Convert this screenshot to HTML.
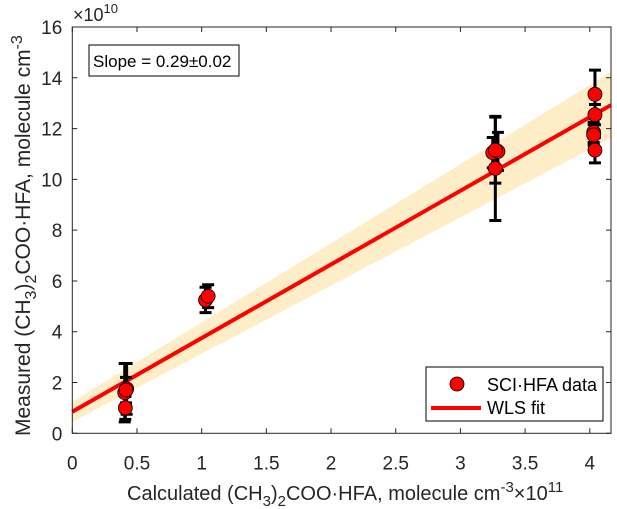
<!DOCTYPE html>
<html><head><meta charset="utf-8"><style>
body{margin:0;background:#fff}
svg{display:block;font-family:"Liberation Sans",Arial,sans-serif}
</style></head><body>
<svg id="chart" width="617" height="509" viewBox="0 0 617 509">
<g id="band"></g>
<g id="fit"></g>
<g id="errs"></g>
<g id="pts"></g>
<g id="axes"></g>
<text x="93" y="67" font-size="17">Slope = 0.29±0.02</text>
<rect x="89" y="45" width="150" height="31" fill="#fff" fill-opacity="0" stroke="#000" stroke-width="1"/>
<g>
<rect x="426" y="367" width="177" height="54" fill="#fff" stroke="#000" stroke-width="1"/>
<circle cx="457" cy="384" r="7" fill="#f00" stroke="#000" stroke-width="0.8"/>
<text x="487" y="391" font-size="18">SCI·HFA data</text>
<line x1="431" y1="408" x2="481" y2="408" stroke="#f00" stroke-width="4"/>
<text x="487" y="414" font-size="18">WLS fit</text>
</g>
<text x="73" y="21" font-size="18" fill="#262626">×10<tspan dy="-8" font-size="13">10</tspan></text>
<text x="127" y="500" font-size="20" fill="#262626">Calculated (CH<tspan dy="6" font-size="15">3</tspan><tspan dy="-6">)</tspan><tspan dy="6" font-size="15">2</tspan><tspan dy="-6">COO·HFA, molecule cm</tspan><tspan dy="-8" font-size="15">-3</tspan><tspan dy="8">×10</tspan><tspan dy="-8" font-size="15">11</tspan></text>
<text transform="translate(30,436) rotate(-90)" font-size="21" fill="#262626">Measured (CH<tspan dy="6" font-size="16">3</tspan><tspan dy="-6">)</tspan><tspan dy="6" font-size="16">2</tspan><tspan dy="-6">COO·HFA, molecule cm</tspan><tspan dy="-8" font-size="16">-3</tspan></text>
</svg>
<script>
const xVals=[0.41,0.405,0.42,0.415,1.03,1.05,3.25,3.27,3.29,3.27,4.04,4.04,4.03,4.03,4.04];
const yVals=[1.0,1.6,1.75,1.7,5.25,5.4,11.05,10.43,11.1,11.15,13.35,12.55,11.85,11.75,11.15];
const yErr=[0.45,1.15,1.0,0.5,0.5,0.45,0.6,2.05,0.75,1.3,0.95,0.4,0.4,0.4,0.5];
const fitSlope=[2.9];
const fitIntercept=[0.85];
const bandHalfStart=[0.4];
const bandHalfEnd=[1.3];
const xTicks=[0,0.5,1,1.5,2,2.5,3,3.5,4];
const yTicks=[0,2,4,6,8,10,12,14,16];
const X0=72.3,X1=611,Y0=433.3,Y1=27,xmax=4.164,ymax=16;
const sx=v=>X0+v/xmax*(X1-X0), sy=v=>Y0-v/ymax*(Y0-Y1);
const NS="http://www.w3.org/2000/svg";
function mk(p,t,a){const e=document.createElementNS(NS,t);for(const k in a)e.setAttribute(k,a[k]);document.getElementById(p).appendChild(e);return e;}
const f=x=>fitIntercept[0]+fitSlope[0]*x, hw=x=>bandHalfStart[0]+(bandHalfEnd[0]-bandHalfStart[0])*x/xmax;
let up=[],dn=[];
for(let i=0;i<=40;i++){const x=xmax*i/40;up.push(sx(x)+","+sy(f(x)+hw(x)));dn.unshift(sx(x)+","+sy(f(x)-hw(x)));}
let b=mk("band","polygon",{points:up.concat(dn).join(" "),fill:"#fdeec8"});


let l=mk("fit","line",{x1:sx(0),y1:sy(f(0)),x2:sx(xmax),y2:sy(f(xmax)),stroke:"#f00","stroke-width":4});


xVals.forEach((x,i)=>{
 const cx=sx(x),t=sy(yVals[i]+yErr[i]),bo=sy(yVals[i]-yErr[i]);
 const g=mk("errs","path",{d:`M${cx},${t}V${bo}M${cx-6},${t}H${cx+6}M${cx-6},${bo}H${cx+6}`,stroke:"#000","stroke-width":3,fill:"none"});
 
 
});
xVals.forEach((x,i)=>{
 const c=mk("pts","circle",{cx:sx(x),cy:sy(yVals[i]),r:7,fill:"#f00",stroke:"#000","stroke-width":0.8});
 
 
});
const fr=mk("axes","rect",{x:X0,y:Y1,width:X1-X0,height:Y0-Y1,fill:"none",stroke:"#262626","stroke-width":1});


xTicks.forEach(v=>{
 const x=sx(v);
 const tk=mk("axes","path",{d:`M${x},${Y0}v-5M${x},${Y1}v5`,stroke:"#262626"});
 
 
 const tx=mk("axes","text",{x:x,y:Y0+36,"font-size":19,"text-anchor":"middle",fill:"#262626"});
 tx.textContent=v;
 
 
});
yTicks.forEach(v=>{
 const y=sy(v);
 const tk=mk("axes","path",{d:`M${X0},${y}h5M${X1},${y}h-5`,stroke:"#262626"});
 
 
 const tx=mk("axes","text",{x:X0-10,y:y+7,"font-size":19,"text-anchor":"end",fill:"#262626"});
 tx.textContent=v;
 
 
});
</script>
</body></html>
